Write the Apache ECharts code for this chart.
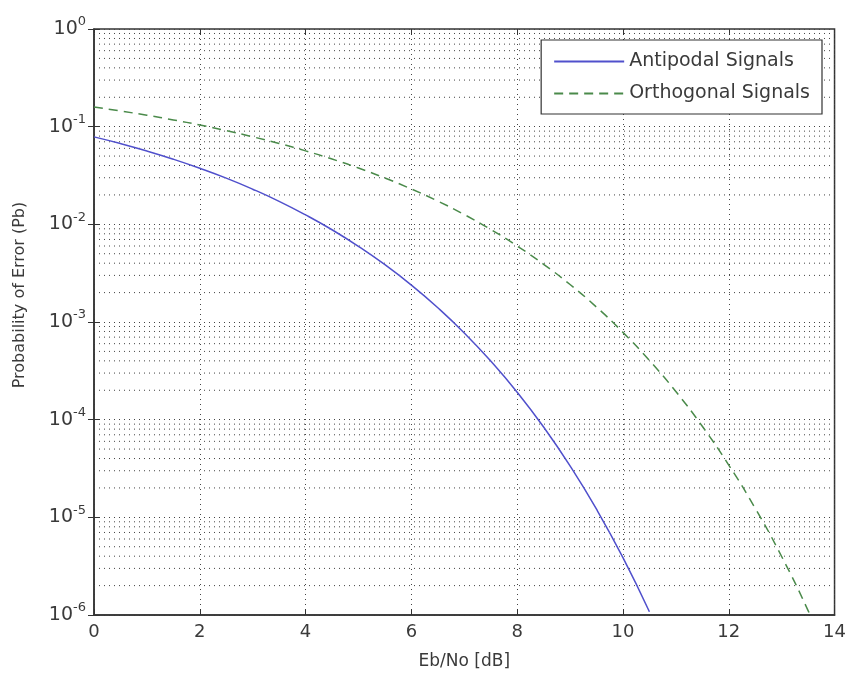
<!DOCTYPE html>
<html><head><meta charset="utf-8">
<script src="https://cdn.jsdelivr.net/npm/echarts@6/dist/echarts.min.js"></script>
<style>html,body{margin:0;padding:0;background:#fff}#c{width:849px;height:675px}</style>
</head><body><div id="c"></div>
<script>
const ebno = [0,0.5,1,1.5,2,2.5,3,3.5,4,4.5,5,5.5,6,6.5,7,7.5,8,8.5,9,9.5,10,10.5,11,11.5,12,12.5,13,13.5,14];
const antipodal = [0.0786,0.0671,0.0563,0.0464,0.0375,0.0297,0.0229,0.0172,0.0125,0.0088,0.00595,0.00386,0.00239,0.0014,0.000773,0.000398,0.000191,0.000084,0.0000336,0.0000121,0.00000387,0.00000108];
const orthogonal = [0.1587,0.1448,0.1309,0.1173,0.104,0.0911,0.0788,0.0673,0.0565,0.0466,0.0377,0.0298,0.023,0.0173,0.0126,0.00887,0.006,0.0039,0.00242,0.00142,0.000783,0.000404,0.000194,0.0000856,0.0000343,0.0000124,0.00000397,0.00000111,0.00000027];
const seriesNames = ['Antipodal Signals','Orthogonal Signals'];
const xTitle = 'Eb/No [dB]';
const yTitle = 'Probability of Error (Pb)';
const minorMultipliers = [2,3,4,5,6,7,8,9];
const decades = [-6,-5,-4,-3,-2,-1];

const font = 'DejaVu Sans, sans-serif';
const txt = '#3a3a3a';
const gridDot = {color:'#444', width:1, type:[1,4]};

const minorSeries = [];
decades.forEach(d => minorMultipliers.forEach(m => {
  const v = m * Math.pow(10, d);
  minorSeries.push({
    type:'line', silent:true, symbol:'none', z:1,
    data:[[0,v],[14,v]],
    lineStyle:gridDot, tooltip:{show:false}
  });
}));

const chart = echarts.init(document.getElementById('c'));
chart.setOption({
  animation:false,
  backgroundColor:'#fff',
  grid:{left:94,right:13,top:29,bottom:60,show:true,borderColor:'#333',borderWidth:1.5},
  legend:{
    top:40,right:27,orient:'vertical',backgroundColor:'#fff',borderColor:'#333',borderWidth:1.2,
    padding:[12,12,11,12],itemGap:13,itemWidth:70,itemHeight:18,
    itemStyle:{opacity:0},
    textStyle:{fontFamily:font,fontSize:19,color:txt},
    data:seriesNames
  },
  xAxis:[{
    type:'value',min:0,max:14,interval:2,
    name:xTitle,nameLocation:'middle',nameGap:38,
    nameTextStyle:{fontFamily:font,fontSize:17,color:txt},
    axisLine:{lineStyle:{color:'#333',width:1.5}},
    axisTick:{inside:true,length:6,lineStyle:{color:'#333'}},
    axisLabel:{fontFamily:font,fontSize:18,color:txt,margin:8},
    splitLine:{show:true,lineStyle:gridDot}
  },{
    type:'value',min:0,max:14,interval:2,position:'top',
    axisLine:{show:false},axisTick:{inside:true,length:6,lineStyle:{color:'#333'}},
    axisLabel:{show:false},splitLine:{show:false}
  }],
  yAxis:[{
    type:'log',logBase:10,min:1e-6,max:1,interval:1,
    name:yTitle,nameLocation:'middle',nameGap:66,
    nameTextStyle:{fontFamily:font,fontSize:16,color:txt,padding:[0,0,0,54]},
    axisLine:{show:true,lineStyle:{color:'#333',width:1.5}},
    axisTick:{inside:true,length:6,lineStyle:{color:'#333'}},
    axisLabel:{
      margin:8,
      formatter:v=>'{b|10}{s|'+Math.round(Math.log10(v))+'}',
      rich:{b:{fontFamily:font,fontSize:19,color:txt},s:{fontFamily:font,fontSize:13,color:txt,padding:[0,0,14,0]}}
    },
    splitLine:{show:true,lineStyle:gridDot}
  },{
    type:'log',logBase:10,min:1e-6,max:1,interval:1,position:'right',
    axisLine:{show:false},axisTick:{inside:true,length:6,lineStyle:{color:'#333'}},
    axisLabel:{show:false},splitLine:{show:false}
  }],
  series:minorSeries.concat([{
    name:seriesNames[0],type:'line',symbol:'none',smooth:true,
    data:antipodal.map((v,i)=>[ebno[i],v]),
    lineStyle:{color:'#5050cc',width:1.5},itemStyle:{color:'#5050cc'},
    z:5
  },{
    name:seriesNames[1],type:'line',symbol:'none',smooth:true,
    data:orthogonal.map((v,i)=>[ebno[i],v]),
    lineStyle:{color:'#4a8a4a',width:1.5,type:[9,6]},itemStyle:{color:'#4a8a4a'},
    z:5
  }])
});
</script></body></html>
